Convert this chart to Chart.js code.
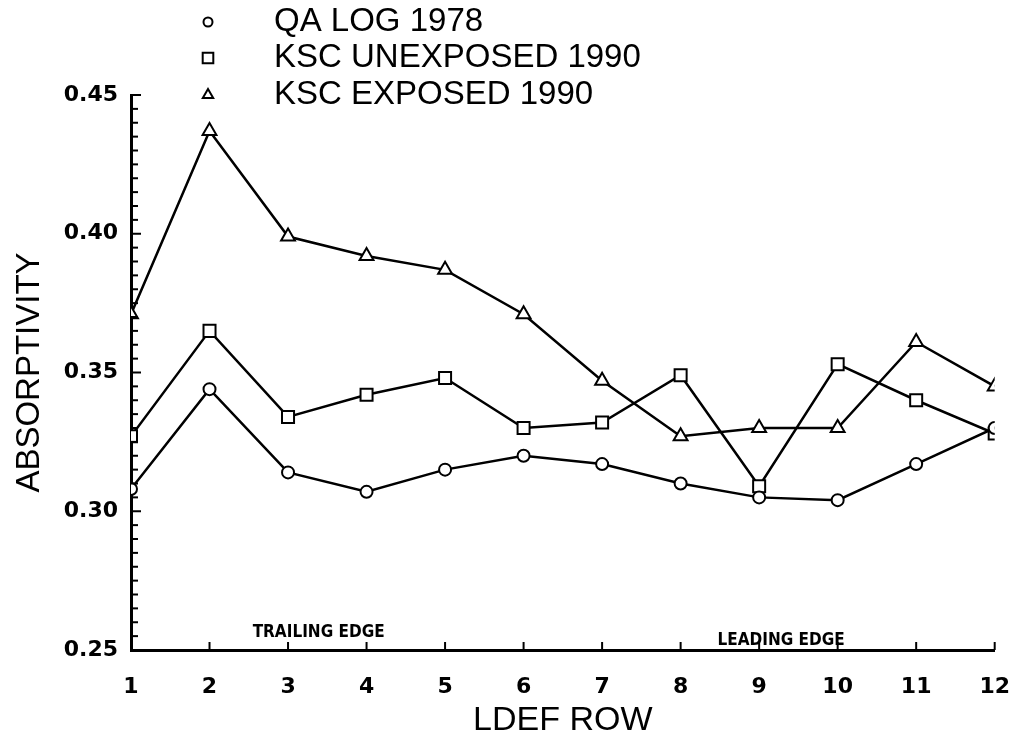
<!DOCTYPE html>
<html>
<head>
<meta charset="utf-8">
<script src="https://cdn.jsdelivr.net/npm/chart.js@4/dist/chart.umd.min.js"></script>
<style>
  html, body { margin: 0; padding: 0; background: #fff; }
  #wrap { width: 1034px; height: 751px; position: relative; }
</style>
</head>
<body>
<div id="wrap"><canvas id="myChart"></canvas></div>
<script>
const rows = [1, 2, 3, 4, 5, 6, 7, 8, 9, 10, 11, 12];
const qaLog1978 = [0.308, 0.344, 0.314, 0.307, 0.315, 0.320, 0.317, 0.310, 0.305, 0.304, 0.317, 0.330];
const kscUnexposed1990 = [0.327, 0.365, 0.334, 0.342, 0.348, 0.330, 0.332, 0.349, 0.309, 0.353, 0.340, 0.328];
const kscExposed1990 = [0.371, 0.437, 0.399, 0.392, 0.387, 0.371, 0.347, 0.327, 0.330, 0.330, 0.361, 0.345];
const yLabels = [0.25, 0.30, 0.35, 0.40, 0.45];
const seriesNames = ['QA LOG 1978', 'KSC UNEXPOSED 1990', 'KSC EXPOSED 1990'];
const edgeNotes = [{ text: 'TRAILING EDGE', row: 3.39, lift: 9 }, { text: 'LEADING EDGE', row: 9.28, lift: 1 }];

const ctx = document.getElementById('myChart').getContext('2d');

const toPoints = (vals) => vals.map((v, i) => ({ x: rows[i], y: v }));

// inward tick marks, legend and edge notes
const extrasPlugin = {
    id: 'extras',
    afterDraw(chart) {
        const c = chart.ctx;
        const xs = chart.scales.x;
        const ys = chart.scales.y;
        const area = chart.chartArea;
        c.save();
        c.strokeStyle = '#000';
        c.lineWidth = 2;
        // y minor ticks every 0.005
        for (let k = 0; k <= 40; k++) {
            const v = 0.25 + k * 0.005;
            const py = ys.getPixelForValue(v);
            c.beginPath();
            c.moveTo(area.left, py);
            c.lineTo(area.left + (k % 10 === 0 ? 10 : 7), py);
            c.stroke();
        }
        // x ticks
        rows.forEach(r => {
            const px = xs.getPixelForValue(r);
            c.beginPath();
            c.moveTo(px, area.bottom);
            c.lineTo(px, area.bottom - 8);
            c.stroke();
        });

        // legend
        const legendX = 208;
        const legendY = [22, 58, 95];
        const styles = ['circle', 'rect', 'triangle'];
        styles.forEach((st, i) => {
            c.fillStyle = '#fff';
            c.strokeStyle = '#000';
            Chart.helpers.drawPoint(c, {
                pointStyle: st,
                radius: st === 'rect' ? 7.5 : (st === 'circle' ? 4.5 : 6),
                borderWidth: 2
            }, legendX, legendY[i]);
            c.fillStyle = '#000';
            c.font = '33px "Liberation Sans", Arial, sans-serif';
            c.textBaseline = 'middle';
            c.textAlign = 'left';
            c.fillText(seriesNames[i], 274, legendY[i]);
        });

        // edge notes
        c.fillStyle = '#000';
        c.font = 'bold 17px "DejaVu Sans Condensed", "DejaVu Sans", sans-serif';
        c.textAlign = 'center';
        c.textBaseline = 'bottom';
        edgeNotes.forEach(n => {
            c.fillText(n.text, xs.getPixelForValue(n.row), area.bottom - n.lift);
        });
        c.restore();
    }
};

const pointCommon = {
    borderColor: '#000',
    backgroundColor: '#fff',
    pointBackgroundColor: '#fff',
    pointBorderColor: '#000',
    pointBorderWidth: 2,
    borderWidth: 2.5,
    tension: 0,
    fill: false
};

const myChart = new Chart(ctx, {
    type: 'line',
    data: {
        datasets: [
            Object.assign({ label: seriesNames[0], data: toPoints(qaLog1978), pointStyle: 'circle', pointRadius: 6 }, pointCommon),
            Object.assign({ label: seriesNames[1], data: toPoints(kscUnexposed1990), pointStyle: 'rect', pointRadius: 8.5 }, pointCommon),
            Object.assign({ label: seriesNames[2], data: toPoints(kscExposed1990), pointStyle: 'triangle', pointRadius: 8 }, pointCommon)
        ]
    },
    options: {
        responsive: true,
        maintainAspectRatio: false,
        animation: false,
        layout: {
            padding: { left: 0, right: 29, top: 95, bottom: 0 }
        },
        plugins: {
            legend: { display: false },
            title: { display: false },
            tooltip: { enabled: false }
        },
        scales: {
            x: {
                type: 'linear',
                min: 1,
                max: 12,
                afterFit: (scale) => { scale.height = 751 - 95 - 555; },
                grid: {
                    display: true,
                    drawOnChartArea: false,
                    drawTicks: false,
                    color: '#000',
                    lineWidth: 0
                },
                border: { display: true, color: '#000', width: 3 },
                ticks: {
                    stepSize: 1,
                    autoSkip: false,
                    maxRotation: 0,
                    color: '#000',
                    padding: 24,
                    font: { family: 'DejaVu Sans', size: 22, weight: 'bold' }
                },
                title: {
                    display: true,
                    text: 'LDEF ROW',
                    color: '#000',
                    font: { family: 'Liberation Sans', size: 34, weight: 'normal' },
                    padding: { top: 0, bottom: 10 }
                }
            },
            y: {
                min: 0.25,
                max: 0.45,
                afterFit: (scale) => { scale.width = 131; },
                grid: {
                    display: true,
                    drawOnChartArea: false,
                    drawTicks: false,
                    lineWidth: 0
                },
                border: { display: true, color: '#000', width: 3 },
                afterBuildTicks: (scale) => {
                    scale.ticks = yLabels.map(v => ({ value: v }));
                },
                ticks: {
                    color: '#000',
                    padding: 13,
                    font: { family: 'DejaVu Sans', size: 22, weight: 'bold' },
                    callback: (v) => v.toFixed(2)
                },
                title: {
                    display: true,
                    text: 'ABSORPTIVITY',
                    color: '#000',
                    font: { family: 'Liberation Sans', size: 33, weight: 'normal' },
                    padding: { top: 10, bottom: 0 }
                }
            }
        }
    },
    plugins: [extrasPlugin]
});
</script>
</body>
</html>
